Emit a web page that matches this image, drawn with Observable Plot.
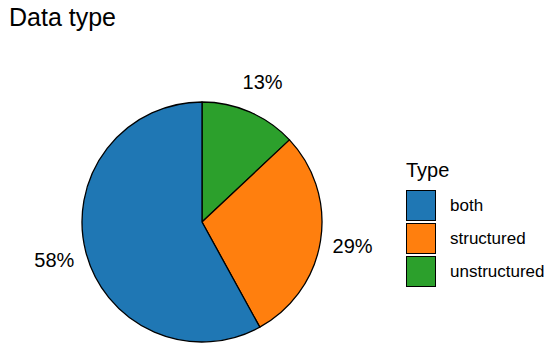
<!DOCTYPE html>
<html>
<head>
<meta charset="utf-8">
<script src="https://cdn.jsdelivr.net/npm/d3@7"></script>
<script src="https://cdn.jsdelivr.net/npm/@observablehq/plot@0.6"></script>
<style>
  body { margin: 0; background: #fff; font-family: "Liberation Sans", Arial, Helvetica, sans-serif; }
  #wrap { position: relative; width: 550px; height: 355px; overflow: hidden; }
  #title { position: absolute; left: 9px; top: 5px; font-size: 25px; line-height: 1; color: #000; white-space: nowrap; }
  #legend { position: absolute; left: 406px; top: 160px; }
  #legend .lt { font-size: 20px; line-height: 1; height: 29px; }
  #legend .row { display: flex; align-items: center; height: 33px; }
  #legend .key { width: 28px; height: 29px; border: 1.5px solid #000; margin-right: 14px; }
  #legend .lab { font-size: 17px; white-space: nowrap; }
  svg { position: absolute; left: 0; top: 0; }
</style>
</head>
<body>
<div id="wrap">
  <div id="title">Data type</div>
  <div id="legend"></div>
</div>
<script>
const types = ["both", "structured", "unstructured"];
const shares = [58, 29, 13];
const pctLabels = ["58%", "29%", "13%"];
const colors = ["#1F77B4", "#FF7F0E", "#2CA02C"];
const legendTitle = "Type";

const data = types.map((t, i) => ({type: t, share: shares[i], label: pctLabels[i]}));
// pie drawn clockwise from 12 o'clock in reverse factor order (as ggplot coord_polar)
const pieOrder = data.slice().reverse();

function pieMark(index, scales, values, dims) {
  const cx = dims.marginLeft + (dims.width - dims.marginLeft - dims.marginRight) / 2;
  const cy = dims.marginTop + (dims.height - dims.marginTop - dims.marginBottom) / 2;
  const R = Math.min(dims.width - dims.marginLeft - dims.marginRight, dims.height - dims.marginTop - dims.marginBottom) / 2;
  const arcs = d3.pie().sort(null).value(d => d.share)(pieOrder);
  const arc = d3.arc().innerRadius(0).outerRadius(R);
  const labelArc = d3.arc().innerRadius(R * 1.27).outerRadius(R * 1.27);
  const g = d3.create("svg:g").attr("transform", `translate(${cx},${cy})`);
  g.selectAll("path").data(arcs).join("path")
    .attr("d", arc)
    .attr("fill", d => scales.color(d.data.type))
    .attr("stroke", "#000")
    .attr("stroke-width", 1.3)
    .attr("stroke-linejoin", "round");
  g.selectAll("text").data(arcs).join("text")
    .attr("transform", d => `translate(${labelArc.centroid(d)})`)
    .attr("text-anchor", "middle")
    .attr("dy", "0.35em")
    .attr("font-size", 20)
    .attr("fill", "#000")
    .text(d => d.data.label);
  return g.node();
}

const chart = Plot.plot({
  width: 550,
  height: 355,
  marginLeft: 82,
  marginRight: 228,
  marginTop: 102,
  marginBottom: 13,
  x: {axis: null, domain: [0, 1]},
  y: {axis: null, domain: [0, 1]},
  color: {domain: types, range: colors},
  style: {fontFamily: '"Liberation Sans", Arial, Helvetica, sans-serif', background: "transparent"},
  marks: [
    Plot.dot(data, {x: () => 0.5, y: () => 0.5, fill: "type", r: 0}),
    pieMark
  ]
});
document.getElementById("wrap").prepend(chart);

const legend = d3.select("#legend");
legend.append("div").attr("class", "lt").text(legendTitle);
const rows = legend.selectAll(".row").data(types).join("div").attr("class", "row");
rows.append("div").attr("class", "key").style("background", d => chart.scale("color").apply(d));
rows.append("div").attr("class", "lab").text(d => d);
</script>
</body>
</html>
